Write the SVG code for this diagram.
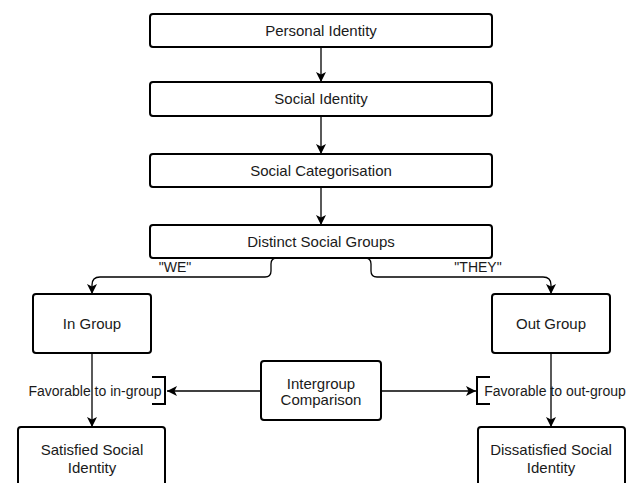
<svg xmlns="http://www.w3.org/2000/svg" width="635" height="483" viewBox="0 0 635 483">
<style>
.box{fill:#fff;stroke:#000;stroke-width:2}
.t{font-family:"Liberation Sans",Arial,sans-serif;font-size:15px;fill:#1a1a1a;text-anchor:middle}
.l{font-family:"Liberation Sans",Arial,sans-serif;font-size:14px;fill:#1a1a1a;text-anchor:middle}
.c{fill:none;stroke:#000;stroke-width:1.3}
</style>
<defs>
<marker id="ah" viewBox="0 0 10 10" refX="10" refY="5" markerWidth="10" markerHeight="10" markerUnits="userSpaceOnUse" orient="auto">
<path d="M0,0 L10,5 L0,10 L2.5,5 Z" fill="#000"/>
</marker>
</defs>
<rect width="635" height="483" fill="#fff"/>
<g id="connectors">
<path class="c" d="M321,47 V82" marker-end="url(#ah)"/>
<path class="c" d="M321,116 V154" marker-end="url(#ah)"/>
<path class="c" d="M321,187 V225" marker-end="url(#ah)"/>
<path class="c" d="M277,258 Q271,258 271,264 L271,271 Q271,277 265,277 L100,277 Q92,277 92,285 L92,294" marker-end="url(#ah)"/>
<path class="c" d="M365,258 Q371,258 371,264 L371,271 Q371,277 377,277 L543,277 Q551,277 551,285 L551,294" marker-end="url(#ah)"/>
<path class="c" d="M92,353 V427" marker-end="url(#ah)"/>
<path class="c" d="M551,353 V427" marker-end="url(#ah)"/>
<path class="c" d="M261,391 H167" marker-end="url(#ah)"/>
<path class="c" d="M381,391 H476" marker-end="url(#ah)"/>
<path fill="none" stroke="#000" stroke-width="2" d="M152,377 H165 V404 H152"/>
<path fill="none" stroke="#000" stroke-width="2" d="M490,377 H477 V404 H490"/>
<text class="l" x="175" y="272">"WE"</text>
<text class="l" x="478" y="272">"THEY"</text>
<text class="l" x="95" y="396">Favorable to in-group</text>
<text class="l" x="555" y="396">Favorable to out-group</text>
</g>
<g id="personal"><rect class="box" x="150" y="14" width="342" height="33" rx="3"/><text class="t" x="321" y="36">Personal Identity</text></g>
<g id="social"><rect class="box" x="150" y="82" width="342" height="34" rx="3"/><text class="t" x="321" y="104">Social Identity</text></g>
<g id="categorisation"><rect class="box" x="150" y="154" width="342" height="33" rx="3"/><text class="t" x="321" y="176">Social Categorisation</text></g>
<g id="distinct"><rect class="box" x="150" y="225" width="342" height="33" rx="3"/><text class="t" x="321" y="247">Distinct Social Groups</text></g>
<g id="ingroup"><rect class="box" x="33" y="294" width="118" height="59" rx="3"/><text class="t" x="92" y="329">In Group</text></g>
<g id="outgroup"><rect class="box" x="492" y="294" width="118" height="59" rx="3"/><text class="t" x="551" y="329">Out Group</text></g>
<g id="intergroup"><rect class="box" x="261" y="361" width="120" height="59" rx="3"/><text class="t" x="321" y="389">Intergroup</text><text class="t" x="321" y="405">Comparison</text></g>
<g id="satisfied"><rect class="box" x="18" y="427" width="147" height="70" rx="3"/><text class="t" x="92" y="455">Satisfied Social</text><text class="t" x="92" y="473">Identity</text></g>
<g id="dissatisfied"><rect class="box" x="478" y="427" width="147" height="70" rx="3"/><text class="t" x="551" y="455">Dissatisfied Social</text><text class="t" x="551" y="473">Identity</text></g>
</svg>
